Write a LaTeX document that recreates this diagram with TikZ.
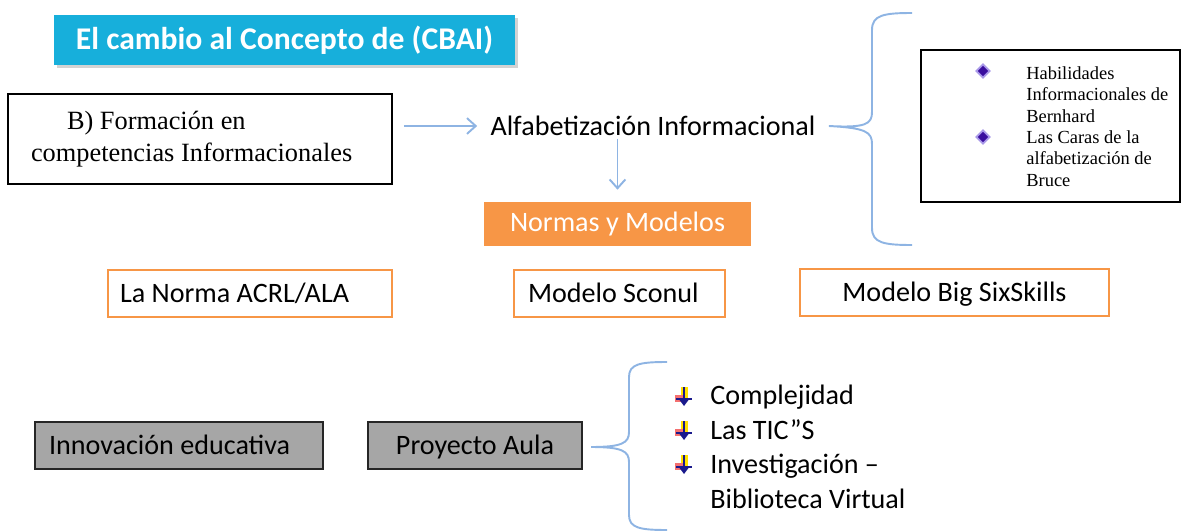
\documentclass[tikz,border=0pt]{standalone}
\usepackage{fontspec}
\setmainfont{Carlito}
\newfontfamily\serifa{Liberation Serif}
\usetikzlibrary{arrows.meta,shapes.geometric,shadows}
\definecolor{celeste}{HTML}{17AFDB}
\definecolor{naranja}{HTML}{F79646}
\definecolor{azulclaro}{HTML}{8EB4E3}
\definecolor{gris}{HTML}{A6A6A6}
\definecolor{violeta}{HTML}{3A0E9E}
\definecolor{lila}{HTML}{A898E8}
\definecolor{azulosc}{HTML}{1A1A8C}
\definecolor{amarillo}{HTML}{FFE000}
\definecolor{rojo}{HTML}{F04040}
\tikzset{
  flechita/.pic={
    \fill[amarillo] (-3,-9) rectangle (3.5,2);
    \fill[rojo!75] (-9,-1) rectangle (-1,6);
    \draw[azulosc,line width=1.4pt] (0,-9) -- (0,5);
    \draw[azulosc,line width=1.4pt] (-8,3) -- (8,3);
    \fill[azulosc] (-4.5,4) -- (4.5,4) -- (0,10) -- cycle;
  }
}
\begin{document}
\begin{tikzpicture}[x=0.02cm,y=-0.02cm,
    texto/.style={font=\fontsize{16}{19.6}\selectfont},
    caja/.style={texto,text height=13pt,text depth=2.2pt,minimum height=0.94cm},
    marco/.style={caja,draw=naranja,line width=0.9pt},
    caja gris/.style={caja,fill=gris,draw=black!85,line width=1pt},
    conector/.style={draw=azulclaro,line width=1.1pt,-{Straight Barb[length=5pt,width=9pt]}},
    llave/.style={draw=azulclaro,line width=1.1pt},
    rombo/.style={diamond,fill=violeta,draw=lila,line width=1pt,inner sep=0pt,minimum size=0.28cm}]
    \useasboundingbox (0,0) rectangle (1181,531);
    % fila de arriba
    \node[fill=celeste,text=white,font=\bfseries\fontsize{18}{21.6}\selectfont,
        minimum width=9.22cm,minimum height=1cm,
        drop shadow={shadow xshift=1.5pt,shadow yshift=-1.5pt,opacity=.35}] (titulo) at (284.5,40) {El cambio al Concepto de (CBAI)};
    \node[draw,line width=0.9pt,minimum width=7.68cm,minimum height=1.8cm,align=left,
        font=\serifa\fontsize{15}{18.1}\selectfont] (formacion) at (200,139)
        {\makebox[6.76cm][l]{\hspace*{0.72cm}B) Formación en}\\competencias Informacionales};
    \node[texto,inner xsep=0.26cm,inner ysep=0.05cm] (alfa) at (653,126) {Alfabetización Informacional};
    \node[texto,fill=naranja,text=white,minimum width=5.34cm,minimum height=0.88cm] (normas) at (617.5,224) {Normas y Modelos};
    \draw[conector,shorten <=0.22cm] (formacion.east |- alfa.west) -- (alfa.west);
    \draw[conector,shorten >=0.24cm] (alfa.south -| normas.north) -- (normas.north);
    % llave grande y recuadro de la derecha
    \draw[llave] (912,13) .. controls (884,13) and (872,15) .. (872,30) -- (872,112)
        .. controls (872,124) and (866,128) .. (alfa.east)
        .. controls (866,128) and (872,132) .. (872,144) -- (872,228)
        .. controls (872,243) and (884,245) .. (912,245);
    \node[draw,line width=0.9pt,minimum width=5.18cm,minimum height=3.04cm] (bernhard) at (1050.5,126) {};
    \node[rombo] (rombo1) at (983,71) {};
    \node[rombo] (rombo2) at (983,137) {};
    \node[anchor=north west,inner sep=0pt,align=left,font=\serifa\fontsize{10.5}{12.2}\selectfont] (caras) at (1026,66)
        {Habilidades\\Informacionales de\\Bernhard\\Las Caras de la\\alfabetización de\\Bruce};
    % normas y modelos
    \node[marco,minimum width=5.68cm,inner xsep=0.24cm] (acrl) at (250,293.5) {\makebox[5.2cm][l]{La Norma ACRL/ALA}};
    \node[marco,minimum width=4.22cm,inner xsep=0.28cm] (sconul) at (619.5,293.5) {\makebox[3.66cm][l]{Modelo Sconul}};
    \node[marco,minimum width=6.18cm] (bigsix) at (954.5,292.5) {Modelo Big SixSkills};
    % fila de abajo
    \node[caja gris,minimum width=5.76cm,inner xsep=0.28cm] (innovacion) at (179,445.5) {\makebox[5.2cm][l]{Innovación educativa}};
    \node[caja gris,minimum width=4.28cm] (proyecto) at (475,445.5) {Proyecto Aula};
    \coordinate (puntaB) at (591,447);
    \draw[llave] (667,362) .. controls (640,362) and (629,364) .. (629,377) -- (629,432)
        .. controls (629,443) and (622,447) .. (puntaB)
        .. controls (622,447) and (629,451) .. (629,462) -- (629,515)
        .. controls (629,528) and (640,530) .. (667,530);
    \pic at (684,396) {flechita};
    \pic at (684,430) {flechita};
    \pic at (684,464) {flechita};
    \node[texto,anchor=north west,inner sep=0pt,align=left] (lista) at (710,385)
        {Complejidad\\Las TIC”S\\Investigación –\\Biblioteca Virtual};
\end{tikzpicture}
\end{document}
